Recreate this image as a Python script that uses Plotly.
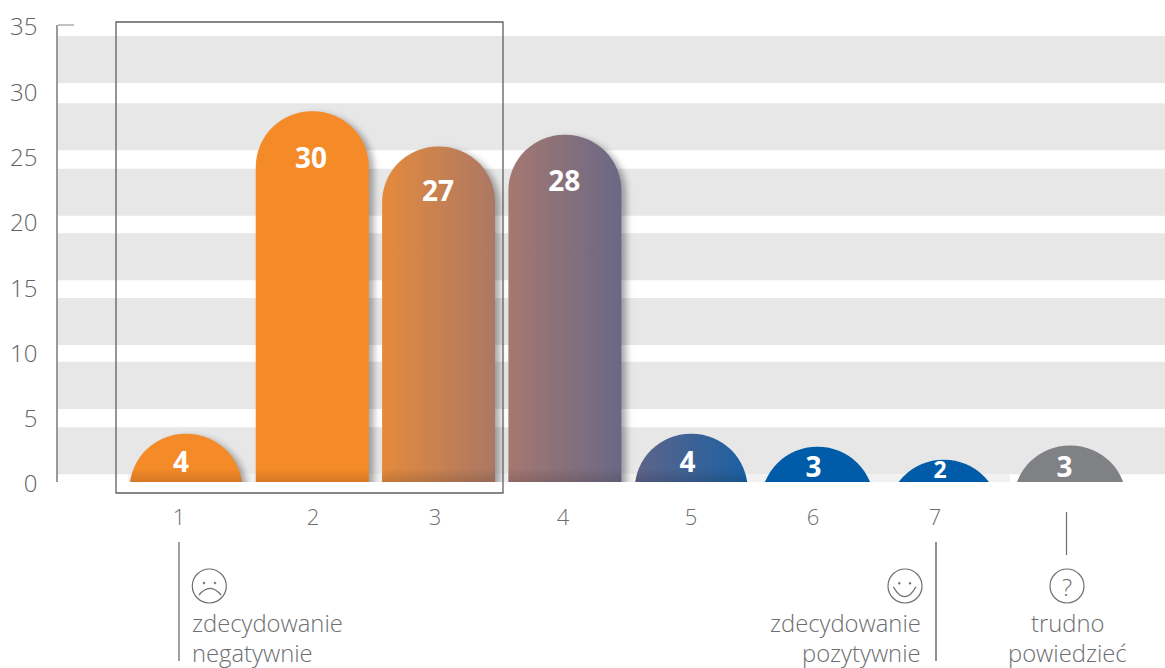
import plotly.graph_objects as go

# ---------- data ----------
categories = [1, 2, 3, 4, 5, 6, 7, 8]
bar_heights = [3.7, 28.4, 25.7, 26.6, 3.7, 2.7, 1.7, 2.8]   # drawn height
bar_labels = ["4", "30", "27", "28", "4", "3", "2", "3"]    # printed value
tick_labels = ["1", "2", "3", "4", "5", "6", "7"]
y_ticks = [0, 5, 10, 15, 20, 25, 30, 35]
band_ranges = [(0.6, 4.2), (5.6, 9.2), (10.5, 14.1), (15.45, 19.05),
               (20.4, 24.0), (25.4, 29.0), (30.55, 34.15)]

# ---------- styling ----------
TXT = "#6d6e71"
FONT = "Open Sans"
bar_colors = ["#f58a28", "#f58a28", "#c98050", "#8a7078", "#3a6298", "#005ca9", "#005ca9", "#808184"]
tick_pos = [0.945, 2.006, 2.972, 3.985, 4.998, 5.964, 6.930]
label_x = [0.96, 1.99, 2.995, 3.995, 4.97, 5.968, 6.97, 7.955]
label_y = [1.30, 24.57, 22.07, 22.82, 1.30, 0.92, 0.75, 0.92]
label_size = [28, 28, 28, 28, 28, 28, 23, 28]
BASE = -10          # bars start below the visible axis so that every dome keeps its full radius


def px(x):
    return (x - 58) / 1107


def py(y):
    return (482 - y) / 457


fig = go.Figure()
fig.add_trace(go.Bar(
    x=categories, y=[h - BASE for h in bar_heights], base=BASE, width=0.895,
    marker=dict(color=bar_colors, cornerradius=57, line=dict(width=0)),
    hoverinfo="skip", showlegend=False,
))
fig.add_trace(go.Scatter(
    x=label_x, y=label_y, mode="text", text=bar_labels,
    textposition="middle center",
    textfont=dict(family=FONT, size=label_size, color="white", weight=700),
    hoverinfo="skip", showlegend=False,
))

shapes = []
for lo, hi in band_ranges:
    shapes.append(dict(type="rect", xref="paper", yref="y", x0=0, x1=1, y0=lo, y1=hi,
                       fillcolor="#e7e7e8", line_width=0, layer="below"))
# faint floor strip behind the bars
shapes.append(dict(type="rect", xref="paper", yref="y", x0=px(128), x1=px(1010), y0=0, y1=0.6,
                   fillcolor="#f1f1f1", line_width=0, layer="below"))


def line(x0, y0, x1, y1, color="#7f7f7f", width=1.5):
    shapes.append(dict(type="line", xref="paper", yref="paper",
                       x0=px(x0), x1=px(x1), y0=py(y0), y1=py(y1),
                       line=dict(color=color, width=width)))


def circle(cx, cy, r, fill=None, color="#6d6e71", width=1.2):
    shapes.append(dict(type="circle", xref="paper", yref="paper",
                       x0=px(cx - r), x1=px(cx + r), y0=py(cy + r), y1=py(cy - r),
                       fillcolor=fill or "rgba(0,0,0,0)", line=dict(color=color, width=width)))


def curve(x0, y0, cx, cy, x1, y1):
    p = f"M {px(x0)} {py(y0)} Q {px(cx)} {py(cy)} {px(x1)} {py(y1)}"
    shapes.append(dict(type="path", xref="paper", yref="paper", path=p,
                       line=dict(color="#6d6e71", width=1.3)))


# axis top cap
line(58, 25, 74, 25, color="#9a9a9a", width=1.2)
# highlight frame
shapes.append(dict(type="rect", xref="paper", yref="paper",
                   x0=px(116), x1=px(503), y0=py(493), y1=py(22),
                   line=dict(color="#5f5f5f", width=1.3), fillcolor="rgba(0,0,0,0)"))
# leader lines
line(179, 542, 179, 661)
line(936, 542, 936, 661, color="#6d6e71")
line(1066.5, 512, 1066.5, 555, color="#6d6e71", width=1.2)
# sad face
circle(209.3, 586, 17)
circle(204, 583, 1.0, fill="#6d6e71", width=0.5)
circle(215, 583, 1.0, fill="#6d6e71", width=0.5)
curve(199, 595, 210, 581.6, 221, 595)
# happy face
circle(905, 586, 17)
circle(899.3, 583.3, 1.0, fill="#6d6e71", width=0.5)
circle(910, 583.3, 1.0, fill="#6d6e71", width=0.5)
curve(893.3, 586.7, 904.6, 606.7, 916, 586.7)
# question mark
circle(1067, 586, 17)

anno_font = dict(family=FONT, size=23.8, color=TXT, weight=300)
LINE1_Y, LINE2_Y = 623, 652.6
annotations = [
    dict(text="zdecydowanie", x=px(191), y=py(LINE1_Y), xanchor="left", align="left"),
    dict(text="negatywnie", x=px(191), y=py(LINE2_Y), xanchor="left", align="left"),
    dict(text="zdecydowanie", x=px(922), y=py(LINE1_Y), xanchor="right", align="right"),
    dict(text="pozytywnie", x=px(922), y=py(LINE2_Y), xanchor="right", align="right"),
    dict(text="trudno", x=px(1067.5), y=py(LINE1_Y), xanchor="center", align="center"),
    dict(text="powiedzieć", x=px(1067.5), y=py(LINE2_Y), xanchor="center", align="center"),
    dict(text="?", x=px(1067), y=py(586), xanchor="center", align="center",
         font=dict(family=FONT, size=24, color=TXT, weight=300)),
]
for a in annotations:
    a.update(xref="paper", yref="paper", yanchor="middle", showarrow=False,
             xshift=0, yshift=0, borderpad=0)
    a.setdefault("font", anno_font)

fig.update_layout(
    width=1165, height=668,
    margin=dict(l=58, r=0, t=25, b=186, pad=0),
    paper_bgcolor="white", plot_bgcolor="rgba(0,0,0,0)",
    font=dict(family=FONT, color=TXT),
    showlegend=False, shapes=shapes, annotations=annotations,
    xaxis=dict(range=[-0.0135, 8.7514], tickmode="array", tickvals=tick_pos, ticktext=tick_labels,
               showgrid=False, zeroline=False, showline=False, ticks="",
               ticklabelstandoff=20,
               tickfont=dict(family=FONT, size=22, color=TXT, weight=300)),
    yaxis=dict(range=[0, 35], tickmode="array", tickvals=y_ticks,
               showgrid=False, zeroline=False, showline=True, linecolor="#9a9a9a", linewidth=1.5,
               ticks="", ticklabelstandoff=14,
               tickfont=dict(family=FONT, size=24, color="#626366", weight=300)),
)

post = r"""
document.body.style.margin='0';
document.documentElement.style.overflow='hidden';
var gd=document.getElementById('{plot_id}');
var svg=gd.querySelector('.main-svg');
var NS='http://www.w3.org/2000/svg';
var defs=svg.querySelector('defs');
function grad(id,stops,attrs){
  var g=document.createElementNS(NS,'linearGradient');g.setAttribute('id',id);
  for(var k in attrs){g.setAttribute(k,attrs[k]);}
  stops.forEach(function(s){var st=document.createElementNS(NS,'stop');
    st.setAttribute('offset',s[0]);st.setAttribute('stop-color',s[1]);
    st.setAttribute('stop-opacity',s[2]===undefined?1:s[2]);g.appendChild(st);});
  defs.appendChild(g);
}
var h={x1:0,y1:0,x2:1,y2:0};
grad('gb3',[[0,'#e58a3c'],[1,'#ab7865']],h);
grad('gb4',[[0,'#a57870'],[1,'#6a6886']],h);
grad('gb5',[[0,'#5f6488'],[1,'#1a60a4']],h);
grad('gshade',[[0,'#000',0],[1,'#000',0.13]],{gradientUnits:'userSpaceOnUse',x1:0,x2:0,y1:443,y2:457});
var paths=gd.querySelectorAll('.barlayer .point path');
var fills={2:'gb3',3:'gb4',4:'gb5'};
paths.forEach(function(p,i){
  if(fills[i]){p.style.fill='url(#'+fills[i]+')';}
  if(i<4){p.style.filter='drop-shadow(5px 3px 3px rgba(0,0,0,0.32))';}
  if(i<5){var c=p.cloneNode(true);c.style.filter='none';c.style.fill='url(#gshade)';
    p.parentNode.appendChild(c);}
});
gd.querySelectorAll('.ytick').forEach(function(t){t.setAttribute('transform','translate(0,2)');});
"""
fig.write_html("out.html", post_script=post, config={"displayModeBar": False})
